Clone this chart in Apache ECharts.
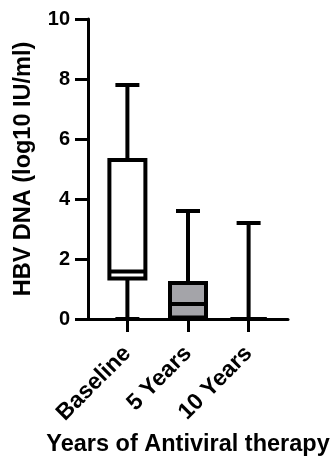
<!DOCTYPE html>
<html>
<head>
<meta charset="utf-8">
<script src="https://cdn.jsdelivr.net/npm/echarts@6/dist/echarts.min.js"></script>
<style>
html,body{margin:0;padding:0;background:#fff;}
#c{width:334px;height:465px;}
</style>
</head>
<body>
<div id="c"></div>
<script>
var categories = ['Baseline', '5 Years', '10 Years'];
var whiskerMin = [0, 0, 0];
var q1 = [1.35, 0.05, 0];
var median = [1.58, 0.5, 0];
var q3 = [5.3, 1.2, 0];
var whiskerMax = [7.8, 3.6, 3.2];
var boxFill = ['#ffffff', '#a4a4a9', '#ffffff'];
var yTicks = [0, 2, 4, 6, 8, 10];
var yTitle = 'HBV DNA (log10 IU/ml)';
var xTitle = 'Years of Antiviral therapy';

var FONT = '"Liberation Sans", Arial, sans-serif';
var data = categories.map(function (c, i) {
  return [i, whiskerMin[i], q1[i], median[i], q3[i], whiskerMax[i]];
});

var chart = echarts.init(document.getElementById('c'), null, {renderer: 'canvas'});

function renderItem(params, api) {
  var i = api.value(0);
  var pMin = api.coord([i, api.value(1)]);
  var pQ1 = api.coord([i, api.value(2)]);
  var pMed = api.coord([i, api.value(3)]);
  var pQ3 = api.coord([i, api.value(4)]);
  var pMax = api.coord([i, api.value(5)]);
  var x = pMed[0];
  var boxW = 36, capW = 24, lw = 4;
  var st = {stroke: '#000', lineWidth: lw};
  var children = [
    {type: 'line', shape: {x1: x, y1: pQ3[1], x2: x, y2: pMax[1]}, style: st},
    {type: 'line', shape: {x1: x, y1: pMin[1], x2: x, y2: pQ1[1]}, style: st},
    {type: 'line', shape: {x1: x - capW / 2, y1: pMax[1], x2: x + capW / 2, y2: pMax[1]}, style: st},
    {type: 'line', shape: {x1: x - capW / 2, y1: pMin[1], x2: x + capW / 2, y2: pMin[1]}, style: st},
    {type: 'rect', shape: {x: x - boxW / 2, y: pQ3[1], width: boxW, height: pQ1[1] - pQ3[1]},
      style: {fill: boxFill[i], stroke: '#000', lineWidth: lw}},
    {type: 'line', shape: {x1: x - boxW / 2, y1: pMed[1], x2: x + boxW / 2, y2: pMed[1]}, style: st}
  ];
  return {type: 'group', children: children};
}

chart.setOption({
  animation: false,
  backgroundColor: '#ffffff',
  grid: {left: 88, right: 46, top: 19, bottom: 146, containLabel: false},
  xAxis: {
    type: 'value',
    min: -0.65,
    max: 2.65,
    splitLine: {show: false},
    axisLine: {show: true, onZero: false, lineStyle: {color: '#000', width: 3}},
    axisTick: {show: true, length: 13, customValues: [0, 1, 2], lineStyle: {color: '#000', width: 3}},
    axisLabel: {
      customValues: [0, 1, 2],
      formatter: function (v) { return categories[Math.round(v)]; },
      rotate: 45,
      margin: 31,
      color: '#000',
      fontFamily: FONT,
      fontWeight: 'bold',
      fontSize: 23
    },
    name: xTitle,
    nameLocation: 'middle',
    nameGap: 113,
    nameTextStyle: {color: '#000', fontFamily: FONT, fontWeight: 'bold', fontSize: 23.5}
  },
  yAxis: {
    type: 'value',
    min: 0,
    max: 10,
    interval: 2,
    splitLine: {show: false},
    axisLine: {show: true, onZero: false, lineStyle: {color: '#000', width: 3}},
    axisTick: {show: true, length: 13, lineStyle: {color: '#000', width: 3}},
    axisLabel: {
      margin: 18,
      color: '#000',
      fontFamily: FONT,
      fontWeight: 'bold',
      fontSize: 20,
      formatter: function (v) { return yTicks.indexOf(v) >= 0 ? String(v) : ''; }
    },
    name: yTitle,
    nameLocation: 'middle',
    nameRotate: 90,
    nameGap: 52,
    nameTextStyle: {color: '#000', fontFamily: FONT, fontWeight: 'bold', fontSize: 23.5}
  },
  series: [{
    type: 'custom',
    renderItem: renderItem,
    encode: {x: 0, y: [1, 2, 3, 4, 5]},
    data: data,
    clip: false
  }]
});
</script>
</body>
</html>
